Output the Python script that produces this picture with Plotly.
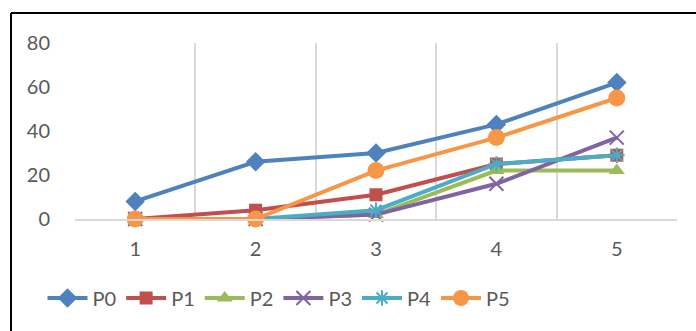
import plotly.graph_objects as go

categories = [1, 2, 3, 4, 5]
series_names = ["P0", "P1", "P2", "P3", "P4", "P5"]
p0 = [8, 26, 30, 43, 62]
p1 = [0, 4, 11, 25, 29]
p2 = [0, 0, 2, 22, 22]
p3 = [0, 0, 2, 16, 37]
p4 = [0, 0, 4, 25, 29]
p5 = [0, 0, 22, 37, 55]
y_ticks = [0, 20, 40, 60, 80]

values = [p0, p1, p2, p3, p4, p5]
colors = ["#4F81BD", "#C0504D", "#9BBB59", "#8064A2", "#4BACC6", "#F79646"]
symbols = ["diamond", "square", "triangle-up", "x-thin-open", "asterisk-open", "circle"]
sizes = [15, 13, 14, 14, 13, 17]

W, H = 696, 331
L, R, T, B = 75, 19, 43, 112

fig = go.Figure()
for name, vals, c, s, sz in zip(series_names, values, colors, symbols, sizes):
    marker = dict(symbol=s, size=sz, color=c)
    if s.endswith("-open"):
        marker["line"] = dict(color=c, width=2)
    fig.add_trace(go.Scatter(
        x=categories, y=vals, name=name, mode="lines+markers", cliponaxis=False,
        line=dict(color=c, width=4), marker=marker))

font = dict(family="Lato, Carlito, sans-serif", size=20, color="#595959")
pw = W - L - R
ph = H - T - B
fig.update_layout(
    width=W, height=H,
    margin=dict(l=L, r=R, t=T, b=B),
    paper_bgcolor="white", plot_bgcolor="white",
    font=font,
    showlegend=True,
    legend=dict(orientation="h", x=(279 - L) / pw, xanchor="center", y=(-(298 - (T + ph)) / ph), yanchor="middle",
                font=font, itemwidth=40, tracegroupgap=0),
    xaxis=dict(range=[0.5, 5.5], tickvals=categories, showgrid=False, zeroline=False,
               showline=True, linecolor="#D9D9D9", linewidth=2,
               ticks="outside", ticklen=11, tickcolor="rgba(0,0,0,0)",
               minor=dict(tickvals=[0.5, 1.5, 2.5, 3.5, 4.5, 5.5], showgrid=True,
                          gridcolor="#D9D9D9", gridwidth=2, ticks=""),
               fixedrange=True),
    yaxis=dict(range=[0, 80], tickvals=y_ticks, showgrid=False, zeroline=False,
               showline=False, ticks="outside", ticklen=20, tickcolor="rgba(0,0,0,0)",
               fixedrange=True),
    shapes=[
        dict(type="line", xref="paper", yref="paper",
             x0=(11 - L) / pw, x1=(W - L + 5) / pw, y0=1 + (T - 13) / ph, y1=1 + (T - 13) / ph,
             line=dict(color="black", width=2)),
        dict(type="line", xref="paper", yref="paper",
             x0=(11 - L) / pw, x1=(11 - L) / pw, y0=1 + (T - 13) / ph, y1=-(H - T - ph + 5) / ph,
             line=dict(color="black", width=2)),
    ],
)

fig.write_html("out.html")
